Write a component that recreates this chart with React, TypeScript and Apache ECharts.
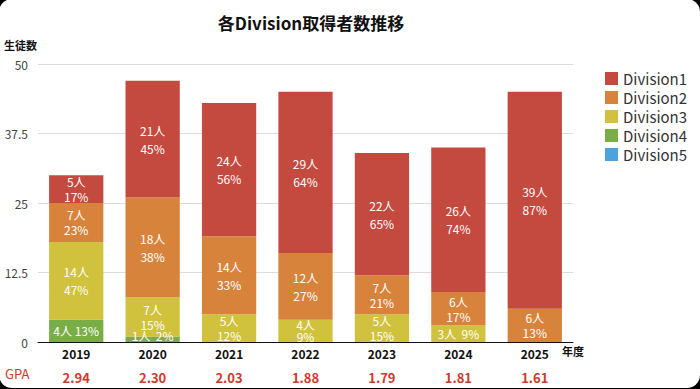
import React, { useEffect, useRef } from "react";
import * as echarts from "echarts";

const years = ["2019", "2020", "2021", "2022", "2023", "2024", "2025"];
const division1 = [5, 21, 24, 29, 22, 26, 39];
const division2 = [7, 18, 14, 12, 7, 6, 6];
const division3 = [14, 7, 5, 4, 5, 3, 0];
const division4 = [4, 1, 0, 0, 0, 0, 0];
const division5 = [0, 0, 0, 0, 0, 0, 0];
const gpa = ["2.94", "2.30", "2.03", "1.88", "1.79", "1.81", "1.61"];
const yTicks = [0, 12.5, 25, 37.5, 50];
const inlineLabels = ["Division4-0", "Division4-1", "Division3-5"];

const seriesDefs = [
  { name: "Division1", data: division1, color: "#c4493e" },
  { name: "Division2", data: division2, color: "#d8833c" },
  { name: "Division3", data: division3, color: "#d1c23d" },
  { name: "Division4", data: division4, color: "#79ae47" },
  { name: "Division5", data: division5, color: "#4ea3dc" },
];

const totals = years.map((_, i) =>
  seriesDefs.reduce((s, d) => s + d.data[i], 0)
);

const FONT = "'Noto Sans CJK JP', 'Noto Sans', sans-serif";

export default function App() {
  const ref = useRef<HTMLDivElement>(null);

  useEffect(() => {
    if (!ref.current) return;
    const chart = echarts.init(ref.current, undefined, { renderer: "svg" });
    const stackOrder = [...seriesDefs].reverse();
    chart.setOption({
      animation: false,
      textStyle: { fontFamily: FONT },
      title: {
        text: "各Division取得者数推移",
        left: 306,
        textAlign: "center",
        top: 9,
        textStyle: { fontSize: 17, fontWeight: "bold", color: "#111", fontFamily: FONT },
      },
      legend: {
        orient: "vertical",
        left: 600,
        top: 66,
        itemWidth: 13,
        itemHeight: 13,
        itemGap: 4,
        icon: "rect",
        data: seriesDefs.map((d) => d.name),
        textStyle: { fontSize: 15, color: "#333", fontFamily: FONT },
      },
      grid: { left: 38, right: 127, top: 64, bottom: 47 },
      xAxis: [
        {
          type: "category",
          data: years,
          axisTick: { show: false },
          axisLine: { lineStyle: { color: "#111", width: 1 } },
          axisLabel: { color: "#111", fontWeight: "bold", fontSize: 12, margin: 5 },
        },
        {
          type: "category",
          data: gpa,
          position: "bottom",
          offset: 24,
          axisTick: { show: false },
          axisLine: { show: false },
          axisLabel: { color: "#d0392b", fontWeight: "bold", fontSize: 13, margin: 5 },
        },
      ],
      yAxis: {
        type: "value",
        min: yTicks[0],
        max: yTicks[yTicks.length - 1],
        interval: 12.5,
        axisLine: { show: false },
        axisTick: { show: false },
        axisLabel: { color: "#444", fontSize: 12, margin: 10 },
        splitLine: { lineStyle: { color: "#dcdcdc" } },
      },
      graphic: [
        {
          type: "text",
          left: 4,
          top: 39,
          style: { text: "生徒数", fontSize: 11, fontWeight: "bold", fill: "#111", fontFamily: FONT },
        },
        {
          type: "text",
          left: 562,
          top: 345,
          style: { text: "年度", fontSize: 11, fontWeight: "bold", fill: "#111", fontFamily: FONT },
        },
        {
          type: "text",
          left: 5,
          top: 367,
          style: { text: "GPA", fontSize: 13, fill: "#d0392b", fontFamily: FONT },
        },
      ],
      series: stackOrder.map((d) => ({
        name: d.name,
        type: "bar",
        stack: "total",
        barWidth: "71%",
        xAxisIndex: 0,
        data: d.data.map((v, i) => {
          const inline = inlineLabels.includes(`${d.name}-${i}`);
          const lh = v >= 10 ? 18 : v >= 5 ? 15 : 12;
          return {
            value: v,
            label: {
              lineHeight: lh,
              offset: inline && v <= 1 ? [0, -4] : [0, 0],
            },
          };
        }),
        itemStyle: { color: d.color },
        label: {
          show: true,
          position: "inside",
          color: "#fff",
          fontSize: 12,
          fontFamily: FONT,
          formatter: (p: any) => {
            const v = p.value as number;
            if (!v) return "";
            const pct = Math.round((v / totals[p.dataIndex]) * 100) + "%";
            if (inlineLabels.includes(`${d.name}-${p.dataIndex}`)) {
              return `${v}人 ${pct.padStart(3, " ")}`;
            }
            return `${v}人\n${pct}`;
          },
        },
      })),
    });
    return () => chart.dispose();
  }, []);

  return (
    <div style={{ position: "fixed", left: 0, top: 0, width: 700, height: 389, background: "#000", overflow: "hidden" }}>
      <div
        style={{
          position: "absolute",
          left: -1,
          top: -1,
          width: 701,
          height: 389,
          background: "#fff",
          borderRadius: 13,
          overflow: "hidden",
        }}
      >
        <div ref={ref} style={{ position: "absolute", left: 1, top: 1, width: 700, height: 389 }} />
      </div>
    </div>
  );
}
